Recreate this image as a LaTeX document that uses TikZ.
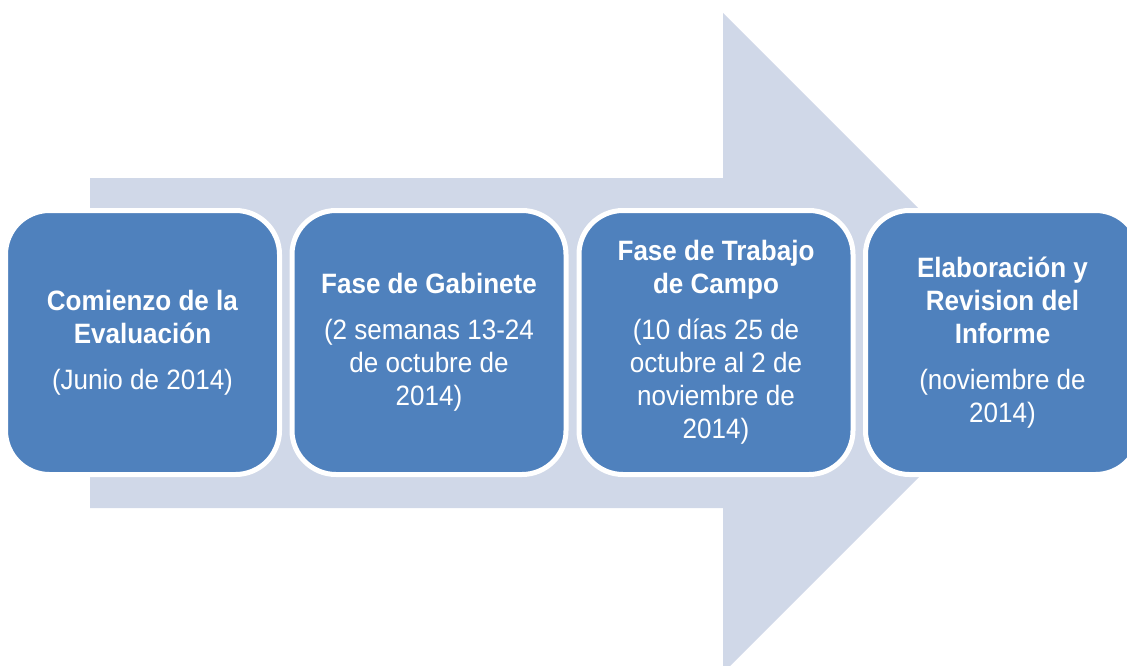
\documentclass[tikz,border=0pt]{standalone}
\usepackage{fontspec}
\setmainfont{Liberation Sans}[FakeStretch=0.93]
\definecolor{boxblue}{RGB}{79,129,189}
\definecolor{arrowgray}{RGB}{208,216,232}
\begin{document}
\begin{tikzpicture}[x=1pt,y=-1pt,
  phase/.style={draw=white, line width=5pt, fill=boxblue, rounded corners=44pt,
    minimum width=274pt, minimum height=264pt, text=white, align=center,
    inner sep=0pt, font=\fontsize{28}{33}\selectfont,
    execute at begin node={\rule{0pt}{26.5pt}}}]
\useasboundingbox (0,0) rectangle (1127,666);
\clip (0,0) rectangle (1127,666);
\fill[arrowgray] (90,178) -- (723,178) -- (723,13) -- (1053,343) -- (723,673)
  -- (723,508) -- (90,508) -- cycle;
\node[phase] (p1) at (142.5,342.5)
  {\textbf{Comienzo de la}\\\textbf{Evaluación}\\[13pt](Junio de 2014)};
\node[phase] (p2) at (429,342.5)
  {\textbf{Fase de Gabinete}\\[13pt](2 semanas 13-24\\de octubre de\\2014)};
\node[phase] (p3) at (716,342.5)
  {\textbf{Fase de Trabajo}\\\textbf{de Campo}\\[13pt](10 días 25 de\\octubre al 2 de\\noviembre de\\2014)};
\node[phase] (p4) at (1002.5,342.5)
  {\textbf{Elaboración y}\\\textbf{Revision del}\\\textbf{Informe}\\[13pt](noviembre de\\2014)};
\end{tikzpicture}
\end{document}
